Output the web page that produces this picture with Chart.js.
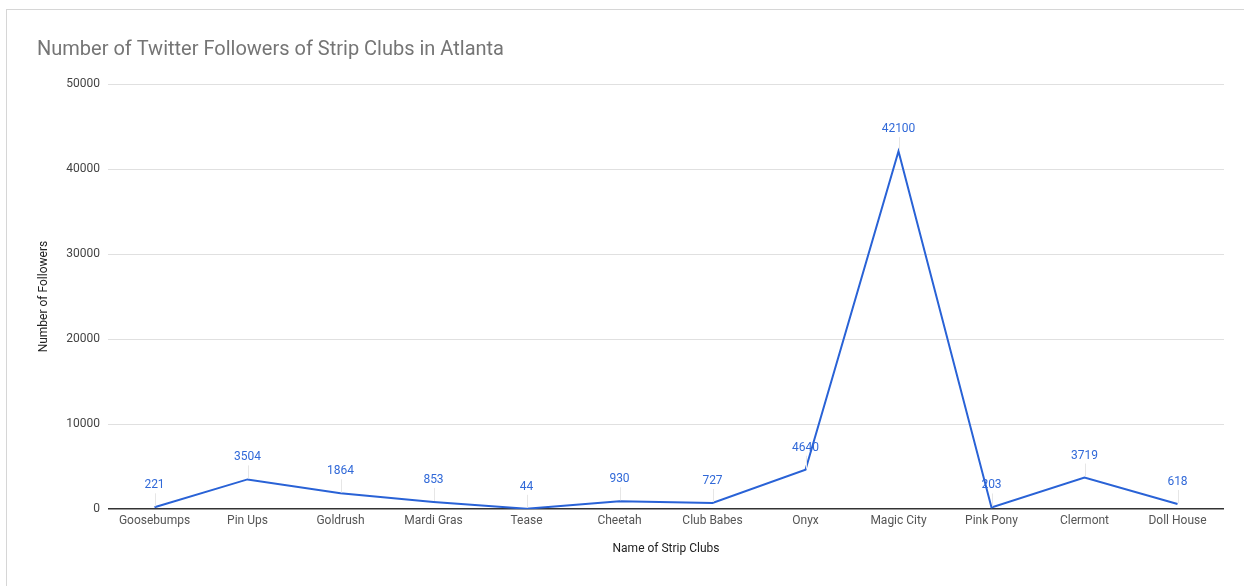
<!DOCTYPE html>
<html>
<head>
<meta charset="utf-8">
<script src="https://cdn.jsdelivr.net/npm/chart.js@4"></script>
<style>
  html, body { margin: 0; padding: 0; background: #fff; }
  #frame {
    position: absolute; left: 6px; top: 9px;
    width: 1238px; height: 577px;
    border-left: 1px solid #d6d6d6; border-top: 1px solid #d6d6d6;
  }
  #grafico { display: block; }
</style>
</head>
<body>
<div id="frame"><canvas id="grafico" width="1237" height="576"></canvas></div>
<script>
const clubes = ["Goosebumps", "Pin Ups", "Goldrush", "Mardi Gras", "Tease", "Cheetah",
  "Club Babes", "Onyx", "Magic City", "Pink Pony", "Clermont", "Doll House"];
const seguidores = [221, 3504, 1864, 853, 44, 930, 727, 4640, 42100, 203, 3719, 618];
const ticksY = [0, 10000, 20000, 30000, 40000, 50000];

const corLinha = "#2962d6";

// rotulos azuis com a hastezinha cinza ate o ponto
const rotulosPlugin = {
  id: "rotulos",
  afterDatasetsDraw(chart) {
    const ctx = chart.ctx;
    const meta = chart.getDatasetMeta(0);
    ctx.save();
    ctx.font = "12px Roboto";
    ctx.textAlign = "center";
    ctx.textBaseline = "middle";
    meta.data.forEach((pt, i) => {
      const yTexto = pt.y - 22;
      ctx.strokeStyle = "#e6e6e6";
      ctx.lineWidth = 1;
      ctx.beginPath();
      ctx.moveTo(Math.round(pt.x) + 0.5, yTexto + 8);
      ctx.lineTo(Math.round(pt.x) + 0.5, pt.y - 1);
      ctx.stroke();
      ctx.fillStyle = "#3169d8";
      ctx.fillText(String(seguidores[i]), pt.x, yTexto);
    });
    ctx.restore();
  },
};

const ctx = document.getElementById("grafico").getContext("2d");
new Chart(ctx, {
  type: "line",
  data: {
    labels: clubes,
    datasets: [
      {
        label: "Followers",
        data: seguidores,
        borderColor: corLinha,
        borderWidth: 2,
        pointRadius: 0,
        tension: 0,
      },
    ],
  },
  options: {
    responsive: false,
    animation: false,
    layout: { padding: { left: 30, right: 20, top: 0, bottom: 26 } },
    plugins: {
      legend: { display: false },
      tooltip: { enabled: false },
      title: {
        display: true,
        text: "Number of Twitter Followers of Strip Clubs in Atlanta",
        align: "start",
        color: "#757575",
        font: { family: "Roboto", size: 20, weight: "normal" },
        padding: { top: 28, bottom: 22 },
      },
    },
    scales: {
      x: {
        offset: true,
        grid: { display: false, drawTicks: false },
        border: { display: false },
        ticks: {
          color: "#555",
          font: { family: "Roboto", size: 12 },
          padding: 5,
          maxRotation: 0,
          autoSkip: false,
        },
        title: {
          display: true,
          text: "Name of Strip Clubs",
          color: "#222",
          font: { family: "Roboto", size: 12 },
          padding: { top: 8 },
        },
      },
      y: {
        min: 0,
        max: 50000,
        afterBuildTicks: (scale) => {
          scale.ticks = ticksY.map((v) => ({ value: v }));
        },
        afterFit: (scale) => {
          scale.width = 71;
        },
        grid: {
          color: (c) => (c.tick && c.tick.value === 0 ? "#333" : "#e0e0e0"),
          lineWidth: (c) => (c.tick && c.tick.value === 0 ? 1.5 : 1),
          drawTicks: false,
        },
        border: { display: false },
        ticks: {
          color: "#444",
          font: { family: "Roboto", size: 12 },
          padding: 8,
          callback: (v) => String(v),
        },
        title: {
          display: true,
          text: "Number of Followers",
          color: "#222",
          font: { family: "Roboto", size: 12 },
          padding: 0,
        },
      },
    },
  },
  plugins: [rotulosPlugin],
});
</script>
</body>
</html>
